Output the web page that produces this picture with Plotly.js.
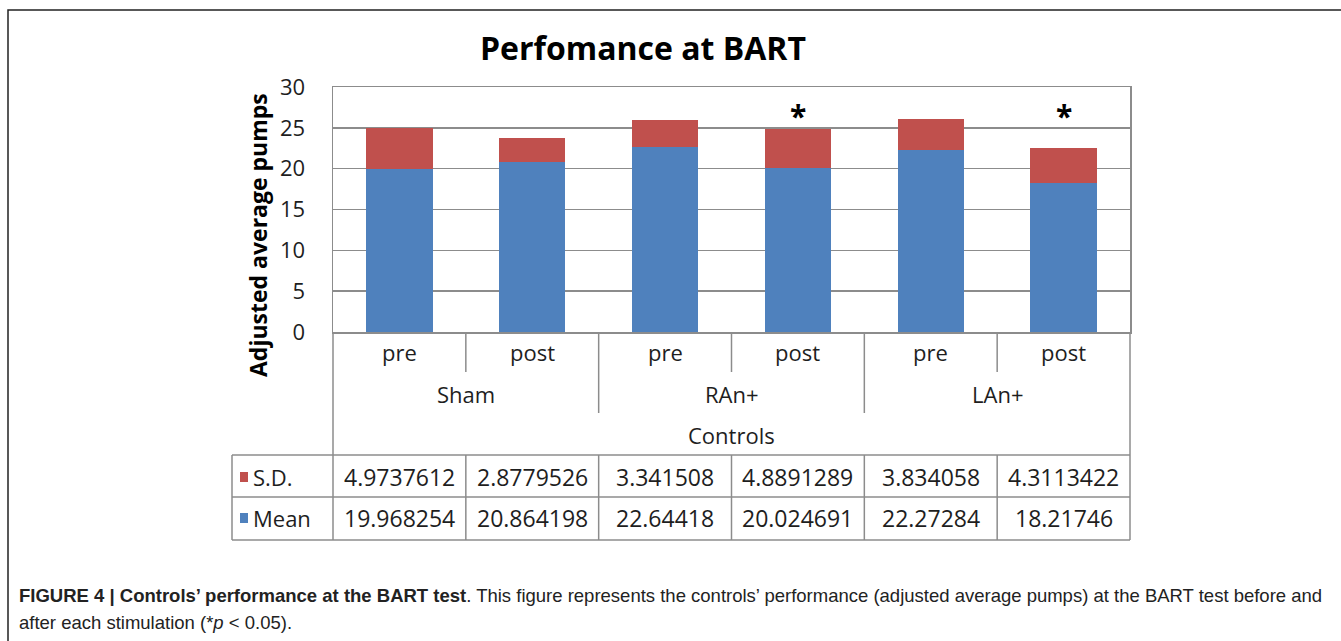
<!DOCTYPE html>
<html>
<head>
<meta charset="utf-8">
<script src="https://cdn.plot.ly/plotly-3.0.1.min.js"></script>
<style>
html,body{margin:0;padding:0;background:#fff;}
#chart{width:1341px;height:641px;}
</style>
</head>
<body>
<div id="chart"></div>
<script>
// ---- data ----
const conditions = ["pre", "post", "pre", "post", "pre", "post"];
const groups = ["Sham", "RAn+", "LAn+"];
const superGroup = "Controls";
const meanValues = [19.968254, 20.864198, 22.64418, 20.024691, 22.27284, 18.21746];
const sdValues = [4.9737612, 2.8779526, 3.341508, 4.8891289, 3.834058, 4.3113422];
const meanLabels = ["19.968254", "20.864198", "22.64418", "20.024691", "22.27284", "18.21746"];
const sdLabels = ["4.9737612", "2.8779526", "3.341508", "4.8891289", "3.834058", "4.3113422"];
const significance = ["", "", "", "*", "", "*"];
const seriesNames = ["S.D.", "Mean"];
const yTicks = [0, 5, 10, 15, 20, 25, 30];

// ---- layout helpers (pixel -> paper) ----
const W = 1341, H = 641;
const L = 333, R = 1130, T = 87, B = 332;
const px = p => (p - L) / (R - L);
const py = p => (B - p) / (B - T);

const BLUE = "#4F81BD", RED = "#C0504D";
const GRID = "#8c8c8c";
const FONT = "'Open Sans', sans-serif";
const TXT = "#1e1e1e";
const xIdx = conditions.map((_, i) => i);

const traces = [
  {type: "bar", name: seriesNames[1], x: xIdx, y: meanValues, marker: {color: BLUE}, width: 0.5, hoverinfo: "y"},
  {type: "bar", name: seriesNames[0], x: xIdx, y: sdValues, marker: {color: RED}, width: 0.5, hoverinfo: "y"}
];

const shapes = [];
const annotations = [];
const lineStyle = {color: GRID, width: 1.5};

// category area lines
shapes.push({type: "line", xref: "paper", yref: "paper", x0: 0, x1: 0, y0: py(332), y1: py(455), line: lineStyle});
shapes.push({type: "line", xref: "paper", yref: "paper", x0: 1, x1: 1, y0: py(332), y1: py(455), line: lineStyle});
for (let i = 0; i < conditions.length - 1; i++) {
  const groupBoundary = (i % 2 === 1);
  shapes.push({type: "line", xref: "x", yref: "paper", x0: i + 0.5, x1: i + 0.5,
    y0: py(332), y1: py(groupBoundary ? 413 : 372), line: lineStyle});
}
// table lines
const tTop = 455, tMid = 497, tBot = 540, tLeft = 232;
[tTop, tMid, tBot].forEach(yy => shapes.push({type: "line", xref: "paper", yref: "paper",
  x0: px(tLeft), x1: 1, y0: py(yy), y1: py(yy), line: lineStyle}));
shapes.push({type: "line", xref: "paper", yref: "paper", x0: px(tLeft), x1: px(tLeft), y0: py(tTop), y1: py(tBot), line: lineStyle});
shapes.push({type: "line", xref: "paper", yref: "paper", x0: 0, x1: 0, y0: py(tTop), y1: py(tBot), line: lineStyle});
shapes.push({type: "line", xref: "paper", yref: "paper", x0: 1, x1: 1, y0: py(tTop), y1: py(tBot), line: lineStyle});
for (let i = 0; i < conditions.length - 1; i++) {
  shapes.push({type: "line", xref: "x", yref: "paper", x0: i + 0.5, x1: i + 0.5, y0: py(tTop), y1: py(tBot), line: lineStyle});
}
// legend keys in table
const keyColors = [RED, BLUE];
const rowCenters = [477, 518];
rowCenters.forEach((yc, k) => {
  shapes.push({type: "rect", xref: "paper", yref: "paper", x0: px(240), x1: px(248), y0: py(yc - 5), y1: py(yc + 5),
    fillcolor: keyColors[k], line: {width: 0}});
  annotations.push({xref: "paper", yref: "paper", x: px(251), y: py(yc), xanchor: "left", yanchor: "middle",
    text: seriesNames[k], showarrow: false, font: {family: FONT, size: 22, color: TXT}});
});
// table values
const rowLabels = [sdLabels, meanLabels];
rowLabels.forEach((arr, k) => arr.forEach((t, i) => annotations.push({xref: "x", yref: "paper", x: i, y: py(rowCenters[k]),
  text: t, showarrow: false, yanchor: "middle", font: {family: FONT, size: 23, color: TXT}})));

// category labels
conditions.forEach((c, i) => annotations.push({xref: "x", yref: "paper", x: i, y: py(352), text: c, showarrow: false,
  yanchor: "middle", font: {family: FONT, size: 22, color: TXT}}));
groups.forEach((g, j) => annotations.push({xref: "x", yref: "paper", x: 2 * j + 0.5, y: py(394), text: g, showarrow: false,
  yanchor: "middle", font: {family: FONT, size: 22, color: TXT}}));
annotations.push({xref: "paper", yref: "paper", x: 0.5, y: py(435), text: superGroup, showarrow: false,
  yanchor: "middle", font: {family: FONT, size: 22, color: TXT}});

// significance stars
significance.forEach((s, i) => { if (s) annotations.push({xref: "x", yref: "y", x: i, y: 27, text: "<b>" + s + "</b>", showarrow: false,
  yanchor: "middle", yshift: -4, font: {family: FONT, size: 30, color: "#000"}}); });

// title
annotations.push({xref: "paper", yref: "paper", x: px(643), y: py(47), text: "<b>Perfomance at BART</b>", showarrow: false,
  xanchor: "center", yanchor: "middle", font: {family: FONT, size: 32, color: "#000"}});

// y-axis title
annotations.push({xref: "paper", yref: "paper", x: px(258), y: py(235), text: "<b>Adjusted average pumps</b>", showarrow: false,
  textangle: -90, xanchor: "center", yanchor: "middle", font: {family: FONT, size: 23, color: "#000"}});

// caption
const CAPFONT = "'Liberation Sans', Arial, sans-serif";
annotations.push({xref: "paper", yref: "paper", x: px(17), y: py(595), xanchor: "left", yanchor: "middle", showarrow: false,
  text: "<b>FIGURE 4 | Controls’ performance at the BART test</b>. This figure represents the controls’ performance (adjusted average pumps) at the BART test before and",
  font: {family: CAPFONT, size: 18.5, color: "#222"}});
annotations.push({xref: "paper", yref: "paper", x: px(17), y: py(622), xanchor: "left", yanchor: "middle", showarrow: false,
  text: "after each stimulation (*<i>p</i> &lt; 0.05).",
  font: {family: CAPFONT, size: 18.5, color: "#222"}});

// outer frame
shapes.push({type: "rect", xref: "paper", yref: "paper", x0: px(8), x1: px(1350), y0: py(10), y1: py(650),
  line: {color: "#222", width: 1.5}, fillcolor: "rgba(0,0,0,0)"});

const layout = {
  width: W, height: H,
  margin: {l: L, r: W - R, t: T, b: H - B, pad: 0},
  paper_bgcolor: "#fff", plot_bgcolor: "#fff",
  barmode: "stack", showlegend: false,
  xaxis: {range: [-0.5, conditions.length - 0.5], showticklabels: false, showgrid: false, zeroline: false,
    showline: true, linecolor: GRID, linewidth: 1.5, mirror: true, fixedrange: true},
  yaxis: {range: [0, 30], tickvals: yTicks, showgrid: true, gridcolor: GRID, gridwidth: 1.5, zeroline: false,
    showline: true, linecolor: GRID, linewidth: 1.5, mirror: true, ticks: "", ticklabelstandoff: 22,
    tickfont: {family: FONT, size: 22, color: TXT}},
  shapes: shapes,
  annotations: annotations
};

Plotly.newPlot("chart", traces, layout, {displayModeBar: false, staticPlot: true});
</script>
</body>
</html>
